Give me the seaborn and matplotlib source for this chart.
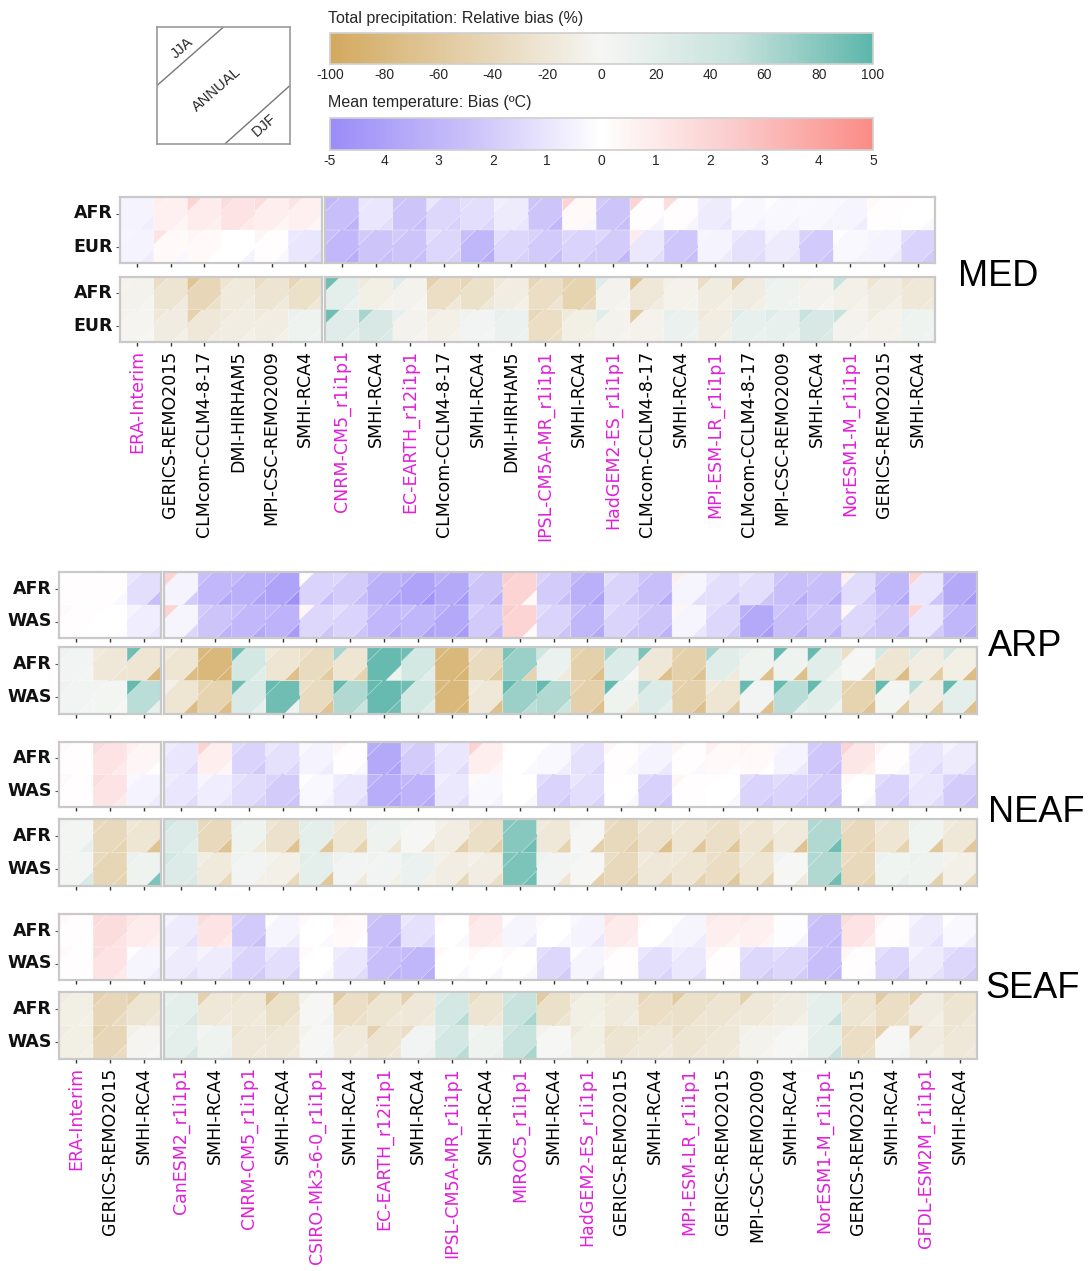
import numpy as np
import pandas as pd
import matplotlib.pyplot as plt
import seaborn as sns
from matplotlib.colors import LinearSegmentedColormap, Normalize
from matplotlib.patches import Polygon
from matplotlib.cm import ScalarMappable

# ---------------- data ----------------
med_labels = ["ERA-Interim", "GERICS-REMO2015", "CLMcom-CCLM4-8-17", "DMI-HIRHAM5", "MPI-CSC-REMO2009",
              "SMHI-RCA4", "CNRM-CM5_r1i1p1", "SMHI-RCA4", "EC-EARTH_r12i1p1", "CLMcom-CCLM4-8-17",
              "SMHI-RCA4", "DMI-HIRHAM5", "IPSL-CM5A-MR_r1i1p1", "SMHI-RCA4", "HadGEM2-ES_r1i1p1",
              "CLMcom-CCLM4-8-17", "SMHI-RCA4", "MPI-ESM-LR_r1i1p1", "CLMcom-CCLM4-8-17",
              "MPI-CSC-REMO2009", "SMHI-RCA4", "NorESM1-M_r1i1p1", "GERICS-REMO2015", "SMHI-RCA4"]
afr_labels = ["ERA-Interim", "GERICS-REMO2015", "SMHI-RCA4", "CanESM2_r1i1p1", "SMHI-RCA4",
              "CNRM-CM5_r1i1p1", "SMHI-RCA4", "CSIRO-Mk3-6-0_r1i1p1", "SMHI-RCA4", "EC-EARTH_r12i1p1",
              "SMHI-RCA4", "IPSL-CM5A-MR_r1i1p1", "SMHI-RCA4", "MIROC5_r1i1p1", "SMHI-RCA4",
              "HadGEM2-ES_r1i1p1", "GERICS-REMO2015", "SMHI-RCA4", "MPI-ESM-LR_r1i1p1", "GERICS-REMO2015",
              "MPI-CSC-REMO2009", "SMHI-RCA4", "NorESM1-M_r1i1p1", "GERICS-REMO2015", "SMHI-RCA4",
              "GFDL-ESM2M_r1i1p1", "SMHI-RCA4"]
med_rows = ["AFR", "EUR"]
afr_rows = ["AFR", "WAS"]

# MED (first 6 columns: ERA-Interim driven)
med_tas_ann = [[-0.5, 0.7, 0.9, 1.3, 0.8, 0.7, -2.6, -1.0, -2.3, -1.6, -1.3, -0.8, -2.3, 0.3, -2.3, 0.1, 0.1, -0.8, -0.3, -0.3, -0.3, -0.4, 0.1, 0.0],
               [-0.5, 0.3, 0.3, 0.0, 0.1, -1.0, -2.9, -2.3, -2.3, -1.6, -3.0, -1.6, -2.1, -1.7, -2.0, -0.9, -2.2, -0.5, -1.2, -0.8, -2.1, -0.3, -0.5, -1.7]]
med_tas_jja = [[-0.5, 0.8, 2.0, 1.6, 1.6, 1.3, -2.9, -1.0, -2.3, -1.0, -1.3, -0.7, -2.3, 2.0, -2.1, 2.0, 1.6, -0.7, -0.1, -0.1, -0.3, -0.3, 0.3, 0.1],
               [-0.4, 1.3, 0.5, 0.0, 0.4, -0.9, -2.6, -2.1, -2.1, -1.3, -2.6, -1.3, -1.8, -1.6, -1.6, 1.0, -2.1, -0.4, -0.9, -0.5, -1.8, -0.1, -0.4, -1.4]]
med_tas_djf = [[-0.7, 0.5, 0.7, 1.0, 0.5, 0.5, -3.1, -1.3, -2.6, -1.8, -1.6, -1.0, -2.9, -0.3, -2.6, -0.4, -0.4, -1.0, -0.5, -0.5, -0.5, -0.7, -0.1, -0.3],
               [-0.7, -0.3, 0.0, -0.5, -0.3, -1.3, -3.4, -2.6, -2.6, -1.8, -3.4, -1.8, -2.6, -2.1, -2.9, -1.3, -2.6, -0.8, -1.4, -1.0, -2.3, -0.5, -0.8, -2.1]]
med_pr_ann = [[-5, -24, -40, -16, -24, -29, 19, -10, -5, -32, -29, -11, -32, -45, -5, -19, -6, -14, -13, 8, -5, -8, -13, -19],
              [-3, -13, -19, -11, -11, 8, 24, 32, -5, -8, 5, 11, -32, -10, -5, -6, 13, -11, 16, 16, 32, -5, -6, 8]]
med_pr_jja = [[-6, -32, -64, -24, -32, -40, 90, -16, 24, -48, -40, -16, -40, -48, 24, -64, -8, -32, -48, 13, -8, 48, -24, -24],
              [-5, -19, -48, -16, -16, 13, 90, 64, 16, -13, 8, 16, -40, -16, 24, -56, 16, -16, 24, 24, 48, 48, -13, 13]]
med_pr_djf = [[-3, -16, -29, -13, -16, -19, 13, -6, -3, -19, -19, -8, -24, -40, -3, -13, -5, -10, -10, 6, -3, -6, -10, -16],
              [-2, -10, -13, -8, -8, 6, 19, 29, -3, -6, 3, 10, -29, -8, -3, -5, 10, -8, 13, 13, 29, -3, -5, 6]]

# ARP
arp_tas_ann = [[0.1, 0.1, -1.3, -0.5, -2.9, -3.3, -3.9, -1.7, -2.0, -3.3, -3.9, -3.6, -2.3, 2.0, -2.0, -3.3, -1.7, -2.6, -0.4, -1.3, -1.3, -2.6, -2.6, -1.4, -3.0, -1.0, -3.6],
               [0.1, 0.0, -0.7, -0.4, -2.3, -2.9, -3.1, -1.6, -1.7, -2.9, -3.0, -3.6, -2.1, 2.0, -1.7, -3.0, -1.7, -2.3, -0.4, -1.6, -3.6, -2.6, -2.3, -1.6, -2.3, -1.0, -3.0]]
arp_tas_jja = [[0.1, 0.0, -1.0, 2.0, -2.6, -2.9, -3.4, 0.1, -1.6, -2.9, -3.4, -3.3, -2.0, 2.3, -1.7, -2.9, -1.3, -2.3, 0.8, -1.0, -1.0, -2.3, -2.3, 0.7, -2.6, 2.0, -3.3],
               [0.3, 0.1, -0.5, 2.0, -2.1, -2.6, -2.9, 0.4, -1.3, -2.6, -2.6, -3.3, -1.8, 2.3, -1.4, -2.6, -1.4, -2.1, 0.5, -1.3, -3.3, -2.3, -2.1, 0.4, -2.1, 2.0, -2.6]]
arp_tas_djf = [[0.0, -0.3, -2.6, -2.0, -3.6, -3.9, -4.8, -2.6, -2.6, -3.9, -4.6, -4.2, -3.1, 0.3, -2.6, -3.9, -2.3, -3.4, -1.3, -2.1, -2.3, -3.4, -3.4, -2.1, -3.6, -2.3, -4.3],
               [0.0, -0.1, -1.0, -1.6, -3.1, -3.6, -4.2, -2.3, -2.3, -3.6, -3.9, -4.2, -2.9, 0.3, -2.3, -3.6, -2.3, -3.1, -1.0, -2.1, -4.2, -3.4, -3.1, -2.1, -3.1, -2.1, -3.6]]
arp_pr_ann = [[5, -18, -22, -22, -80, 35, -22, -35, -22, 95, 35, -80, -35, 70, 12, -50, 28, -18, -50, 22, 8, 8, 22, 0, -22, -12, -10],
              [5, 3, 55, -22, -45, 30, 90, -35, 60, 95, 35, -80, -18, 70, 60, -50, 8, 28, -50, -22, 5, 55, 22, -45, 3, -12, 18]]
arp_pr_jja = [[8, -15, 90, -15, -80, 90, -15, -30, 65, 95, 90, -80, -30, 85, 40, -45, 65, 85, -50, 65, 15, 95, 95, -30, 35, 30, 35],
              [8, 5, 95, -8, -45, 90, 95, -30, 95, 95, 90, -80, -15, 95, 95, -45, 95, 55, -50, -15, 95, 95, 95, -45, 95, 55, 95]]
arp_pr_djf = [[3, -22, -80, -75, -85, 22, -70, -55, -45, 8, 22, -85, -55, -45, -15, -70, 0, -70, -65, -15, -70, -70, 8, -45, -75, -55, -75],
              [3, 0, 15, -75, -75, 15, 8, -65, 45, 90, 22, -85, -70, 55, 45, -70, -15, 15, -70, -55, -70, 15, 8, -65, -55, -55, -70]]

# NEAF
neaf_tas_ann = [[0.1, 1.3, 0.4, -1.0, 0.8, -1.7, -1.2, -0.5, 0.1, -3.6, -2.0, -1.0, 0.8, 0.0, -0.3, -1.2, 0.1, -0.5, 0.1, 0.3, 0.3, -0.5, -2.2, 1.2, 0.1, -1.0, -0.8],
                [0.1, 1.3, -0.5, -1.0, -0.7, -1.4, -2.0, -0.3, -1.0, -3.4, -3.1, -0.9, -0.3, 0.0, -1.7, -1.3, 0.0, -1.8, 0.1, 0.0, -1.7, -1.7, -2.1, 0.0, -1.7, -1.0, -2.0]]
neaf_tas_jja = [[0.3, 1.6, 0.7, -0.8, 2.0, -1.4, -0.9, -0.3, 0.4, -3.4, -1.7, -0.8, 2.0, 0.1, 0.0, -0.9, 0.4, -0.3, 0.5, 0.7, 0.5, -0.3, -2.0, 2.0, 0.4, -0.8, -0.5],
                [0.3, 1.6, -0.3, -0.8, -0.4, -1.2, -1.7, 0.1, -0.8, -3.1, -2.9, -0.7, 0.3, 0.1, -1.4, -1.0, 0.1, -1.6, 0.4, 0.1, -1.4, -1.4, -1.8, 0.3, -1.4, -0.8, -1.7]]
neaf_tas_djf = [[0.0, 1.0, 0.1, -1.4, 0.4, -2.1, -1.6, -0.8, -0.3, -3.9, -2.3, -1.4, 0.4, -0.3, -0.7, -1.6, -0.3, -0.9, -0.3, -0.1, 0.0, -0.9, -2.6, 0.8, -0.3, -1.4, -1.3],
                [0.0, 1.0, -0.8, -1.4, -1.0, -1.8, -2.3, -0.5, -1.4, -3.8, -3.5, -1.3, -0.5, -0.3, -2.1, -1.7, -0.3, -2.2, -0.1, -0.3, -2.1, -2.1, -2.5, -0.3, -2.1, -1.4, -2.5]]
neaf_pr_ann = [[3, -38, -22, 27, -38, 8, -27, 18, -22, 8, 0, -12, -30, 80, -18, 0, -38, -27, -22, -30, -22, -15, 60, -38, -22, 6, -18],
               [3, -42, 8, 27, -15, 5, -8, 18, 5, 5, 12, -12, -12, 85, 5, 0, -38, -18, -22, -33, -22, 0, 60, -38, 6, 8, -8]]
neaf_pr_jja = [[5, -38, -18, 38, -38, 12, -22, 22, -18, 12, 3, -8, -27, 80, -15, 5, -33, -22, -18, -27, -18, -12, 60, -33, -18, 9, -15],
               [5, -38, 12, 38, -12, 8, -5, 22, 8, 8, 15, -8, -8, 85, 8, 5, -33, -15, -18, -30, -18, 5, 60, -33, 9, 12, -5]]
neaf_pr_djf = [[15, -45, -65, 22, -65, -15, -65, -60, -45, -22, -22, -50, -50, 90, -45, -50, -50, -70, -60, -60, -50, -65, 90, -45, -45, -60, -60],
               [30, -45, 85, 30, -38, -8, -38, -60, -15, -8, -8, -38, -30, 90, -22, -50, -50, -45, -45, -60, -45, -15, 90, -45, 15, -50, -38]]

# SEAF
seaf_tas_ann = [[0.1, 1.6, 0.9, -0.8, 1.3, -2.1, -0.4, 0.0, 0.3, -2.6, -1.2, 0.0, 1.0, -0.4, 0.0, -0.5, 1.0, 0.0, -0.4, 0.8, 0.7, -0.1, -2.6, 1.3, 0.1, -0.8, -0.3],
                [0.1, 1.3, -0.4, -0.8, -0.8, -1.7, -1.3, 0.0, -1.0, -2.6, -3.0, 0.0, 0.0, 0.0, -1.6, -0.4, 0.1, -1.3, -0.9, 0.1, -1.6, -1.6, -2.6, 0.1, -1.6, -0.8, -1.6]]
seaf_tas_jja = [[0.3, 1.7, 1.2, -0.5, 1.6, -1.8, -0.1, 0.3, 0.5, -2.3, -0.9, 0.3, 1.3, -0.1, 0.3, -0.3, 1.3, 0.3, -0.1, 1.0, 0.9, 0.1, -2.3, 1.6, 0.4, -0.5, 0.0],
                [0.3, 1.6, -0.1, -0.5, -0.5, -1.4, -1.0, 0.3, -0.8, -2.3, -2.7, 0.3, 0.3, 0.3, -1.3, -0.1, 0.4, -1.0, -0.7, 0.4, -1.3, -1.3, -2.3, 0.4, -1.3, -0.5, -1.3]]
seaf_tas_djf = [[0.0, 1.3, 0.7, -1.2, 1.0, -2.5, -0.8, -0.3, 0.0, -3.1, -1.6, -0.3, 0.8, -0.8, -0.3, -0.9, 0.8, -0.4, -0.8, 0.5, 0.4, -0.5, -3.0, 1.0, -0.1, -1.2, -0.7],
                [0.0, 1.0, -0.7, -1.2, -1.2, -2.1, -1.7, -0.3, -1.4, -3.1, -3.4, -0.3, -0.3, -0.3, -2.0, -0.8, -0.1, -1.7, -1.3, -0.1, -2.0, -2.0, -3.0, -0.1, -2.0, -1.2, -2.0]]
seaf_pr_ann = [[-10, -40, -24, 19, -19, -19, -29, 0, -32, -24, -19, 35, -24, 48, -29, -10, -16, -32, -29, -24, -19, -13, 19, -24, -32, -13, -24],
               [-10, -40, -3, 19, 8, -19, -19, 0, -16, -24, 5, 35, 8, 48, 0, -10, -24, -19, -24, -19, -5, 0, 19, -32, 0, -13, -19]]
seaf_pr_jja = [[-13, -48, -48, 16, -48, -24, -64, -5, -56, -48, -48, 29, -32, 40, -56, -16, -19, -40, -56, -32, -48, -16, 16, -32, -56, -48, -29],
               [-13, -48, -8, 16, 5, -24, -24, -5, -24, -48, -32, 29, 5, 40, -5, -16, -29, -24, -32, -24, -8, -5, 16, -35, -48, -48, -24]]
seaf_pr_djf = [[-8, -35, -19, 32, -16, -16, -24, 5, -29, -19, -16, 56, -19, 64, -24, -8, -13, -29, -24, -19, -16, -10, 48, -19, -29, -10, -19],
               [-8, -35, 0, 32, 13, -16, -16, 5, -13, -19, 8, 56, 13, 64, 3, -8, -19, -16, -19, -16, -3, 3, 48, -29, 3, -10, -16]]

pr_ticks = [-100, -80, -60, -40, -20, 0, 20, 40, 60, 80, 100]
tas_ticks = [-5, -4, -3, -2, -1, 0, 1, 2, 3, 4, 5]
tas_ticklabels = ["-5", "4", "3", "2", "1", "0", "1", "2", "3", "4", "5"]

# ---------------- style ----------------
sns.set_theme(style="white")
plt.rcParams["font.family"] = ["DejaVu Sans"]

W, H = 1089, 1271
fig = plt.figure(figsize=(W / 100, H / 100), dpi=100)

tas_cmap = LinearSegmentedColormap.from_list(
    "tas", ["#9b8cf8", "#c9c0fa", "#ffffff", "#fbcaca", "#fb8b85"])
pr_cmap = LinearSegmentedColormap.from_list(
    "pr", ["#d3a95f", "#e4d0aa", "#f6f6f4", "#c6e2dc", "#5cb6aa"])
tas_norm = Normalize(-5, 5)
pr_norm = Normalize(-100, 100)

GCM_COLOR = "#e020d8"
FRAME = "#c9c9c9"


def add_ax(x0, y0, x1, y1):
    return fig.add_axes([x0 / W, 1 - y1 / H, (x1 - x0) / W, (y1 - y0) / H])


def label_color(lab):
    return GCM_COLOR if (lab == "ERA-Interim" or "_r1" in lab) else "black"


def draw_panel(ax, ann, jja, djf, cmap, norm, rows, cols, show_rows, xlabels):
    df = pd.DataFrame(ann, index=rows, columns=range(len(cols)))
    sns.heatmap(df, ax=ax, cmap=cmap, vmin=norm.vmin, vmax=norm.vmax, cbar=False,
                xticklabels=False, yticklabels=rows)
    f = 0.45
    for i in range(len(rows)):
        for j in range(len(cols)):
            ax.add_patch(Polygon([(j, i), (j + f, i), (j, i + f)], closed=True,
                                 fc=cmap(norm(jja[i][j])), ec=(1, 1, 1, 0.5), lw=0.5))
            ax.add_patch(Polygon([(j + 1, i + 1), (j + 1 - f, i + 1), (j + 1, i + 1 - f)], closed=True,
                                 fc=cmap(norm(djf[i][j])), ec=(1, 1, 1, 0.5), lw=0.5))
    for s in ax.spines.values():
        s.set_visible(True)
        s.set_color(FRAME)
        s.set_linewidth(1.6)
    ax.set_xticks(np.arange(len(cols)) + 0.5)
    ax.tick_params(axis="x", bottom=True, length=3, width=1, color="#333333", pad=3)
    ax.tick_params(axis="y", left=show_rows, length=3, width=0.8, color="#555555", pad=2)
    if xlabels:
        ax.set_xticklabels(cols, rotation=90, fontsize=12.5)
        for t, lab in zip(ax.get_xticklabels(), cols):
            t.set_color(label_color(lab))
    else:
        ax.set_xticklabels([])
    if show_rows:
        ax.set_yticklabels(rows, rotation=0, fontsize=12.5, fontweight="bold", color="#111111")
    else:
        ax.set_yticklabels([])
    ax.set_xlabel("")
    ax.set_ylabel("")


def draw_region(name, labels, rows, n1, x_split, y_tas, y_pr, tas, pr, with_labels, name_xy):
    x0, x1a, x2a, x2b = x_split
    for (yt, yb), data, cmap, norm, is_pr in [(y_tas, tas, tas_cmap, tas_norm, False),
                                              (y_pr, pr, pr_cmap, pr_norm, True)]:
        ann, jja, djf = data
        ax1 = add_ax(x0, yt, x1a, yb)
        draw_panel(ax1, [r[:n1] for r in ann], [r[:n1] for r in jja], [r[:n1] for r in djf],
                   cmap, norm, rows, labels[:n1], True, with_labels and is_pr)
        ax2 = add_ax(x2a, yt, x2b, yb)
        draw_panel(ax2, [r[n1:] for r in ann], [r[n1:] for r in jja], [r[n1:] for r in djf],
                   cmap, norm, rows, labels[n1:], False, with_labels and is_pr)
    fig.text(name_xy[0] / W, 1 - name_xy[1] / H, name, fontsize=26, ha="center", va="center",
             family=["Liberation Sans", "DejaVu Sans"], color="black")


draw_region("MED", med_labels, med_rows, 6, (120, 322, 325, 935), (197, 263), (277, 342),
            (med_tas_ann, med_tas_jja, med_tas_djf), (med_pr_ann, med_pr_jja, med_pr_djf),
            True, (998, 276))
draw_region("ARP", afr_labels, afr_rows, 3, (59, 161, 164, 977), (572, 638), (647, 714),
            (arp_tas_ann, arp_tas_jja, arp_tas_djf), (arp_pr_ann, arp_pr_jja, arp_pr_djf),
            False, (1025, 646))
draw_region("NEAF", afr_labels, afr_rows, 3, (59, 161, 164, 977), (742, 807), (819, 886),
            (neaf_tas_ann, neaf_tas_jja, neaf_tas_djf), (neaf_pr_ann, neaf_pr_jja, neaf_pr_djf),
            False, (1036, 812))
draw_region("SEAF", afr_labels, afr_rows, 3, (59, 161, 164, 977), (914, 980), (992, 1059),
            (seaf_tas_ann, seaf_tas_jja, seaf_tas_djf), (seaf_pr_ann, seaf_pr_jja, seaf_pr_djf),
            True, (1033, 988))

# ---------------- colour bars ----------------
cb_font = ["Liberation Sans", "DejaVu Sans"]
for (yt, yb), cmap, norm, ticks, tlabels, title in [
        ((33, 64), pr_cmap, pr_norm, pr_ticks, [str(t) for t in pr_ticks],
         "Total precipitation: Relative bias (%)"),
        ((118, 150), tas_cmap, tas_norm, tas_ticks, tas_ticklabels,
         "Mean temperature: Bias (ºC)")]:
    cax = add_ax(330, yt, 873, yb)
    cb = fig.colorbar(ScalarMappable(norm=norm, cmap=cmap), cax=cax, orientation="horizontal")
    cb.set_ticks(ticks)
    cb.set_ticklabels(tlabels)
    cb.outline.set_edgecolor("#d0d0d0")
    cax.tick_params(axis="x", bottom=False, length=0, labelsize=10, pad=3)
    for t in cax.get_xticklabels():
        t.set_family(cb_font)
    fig.text(328 / W, 1 - (yt - 15) / H, title, fontsize=11.5, ha="left", va="center",
             family=cb_font)

# ---------------- season key ----------------
kax = add_ax(157, 27, 290, 144)
kax.set_xlim(0, 1)
kax.set_ylim(0, 1)
kax.set_xticks([])
kax.set_yticks([])
for s in kax.spines.values():
    s.set_visible(True)
    s.set_color("#9a9a9a")
    s.set_linewidth(1.2)
kax.plot([0, 0.5], [0.5, 1], color="#777777", lw=1)
kax.plot([0.51, 1], [0, 0.5], color="#777777", lw=1)
kax.text(0.19, 0.82, "JJA", rotation=41, ha="center", va="center", fontsize=10.5, family=cb_font)
kax.text(0.45, 0.47, "ANNUAL", rotation=41, ha="center", va="center", fontsize=10.5, family=cb_font)
kax.text(0.81, 0.16, "DJF", rotation=41, ha="center", va="center", fontsize=10.5, family=cb_font)

fig.savefig("out.png", dpi=100)
